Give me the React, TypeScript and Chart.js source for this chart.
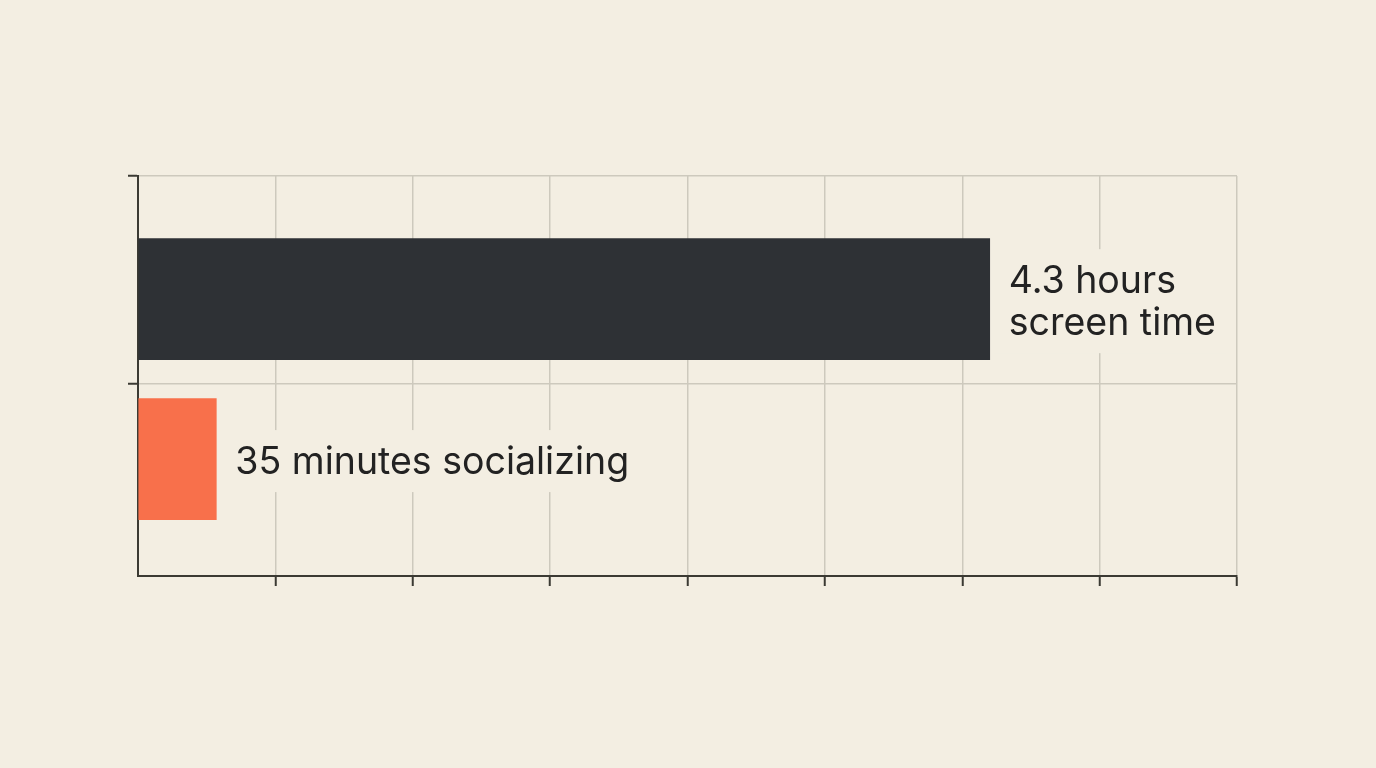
import { useEffect, useRef } from 'react';
import { Chart, registerables } from 'chart.js';

Chart.register(...registerables);

// values (x axis runs 0..8, no tick labels shown)
const categories = ['Screen time', 'Socializing'];
const values = [6.2, 0.57];
const barLabels = [['4.3 hours', 'screen time'], ['35 minutes socializing']];
const barColors = ['#2e3135', '#f8704b'];
const xTicks = [0, 1, 2, 3, 4, 5, 6, 7, 8];

const BG = '#f3eee2';
const GRID = '#cdc9bd';
const AXIS = '#3b3a33';
const TEXT = '#222222';

// label with a page-coloured box that hides the gridlines behind it
const barLabelPlugin = {
  id: 'barLabels',
  afterDatasetsDraw(chart: any) {
    const { ctx } = chart;
    const meta = chart.getDatasetMeta(0);
    ctx.save();
    ctx.font = '37.5px Inter, "Noto Sans", sans-serif';
    ctx.textBaseline = 'middle';
    ctx.textAlign = 'left';
    meta.data.forEach((bar: any, i: number) => {
      const lines = barLabels[i];
      const lineH = 42;
      const textX = bar.x + 19;
      const widest = Math.max(...lines.map((l) => ctx.measureText(l).width));
      const boxH = lines.length * lineH + 20;
      ctx.fillStyle = BG;
      ctx.fillRect(bar.x + 4, bar.y + 2 - boxH / 2, widest + 26, boxH);
      ctx.fillStyle = TEXT;
      lines.forEach((l, j) => {
        ctx.fillText(l, textX, bar.y + 4 + (j - (lines.length - 1) / 2) * lineH);
      });
    });
    ctx.restore();
  },
};

export default function App() {
  const canvasRef = useRef<HTMLCanvasElement>(null);
  const chartRef = useRef<any>(null);

  useEffect(() => {
    document.body.style.margin = '0';
    document.body.style.background = BG;
    if (!canvasRef.current) return;
    if (chartRef.current) chartRef.current.destroy();

    chartRef.current = new Chart(canvasRef.current, {
      type: 'bar',
      data: {
        datasets: [
          {
            label: 'Time',
            data: categories.map((_, i) => ({ x: values[i], y: i })),
            backgroundColor: barColors,
            borderWidth: 0,
            barThickness: 121,
          },
        ],
      },
      options: {
        indexAxis: 'y',
        responsive: true,
        maintainAspectRatio: false,
        animation: false,
        layout: { padding: { left: 128, right: 139, top: 176, bottom: 182 } },
        plugins: {
          legend: { display: false },
          tooltip: { enabled: false },
        },
        scales: {
          x: {
            type: 'linear',
            min: 0,
            max: 8,
            afterBuildTicks: (scale: any) => {
              scale.ticks = xTicks.map((v) => ({ value: v }));
            },
            afterFit: (scale: any) => {
              scale.height = 10;
            },
            ticks: { display: false },
            grid: {
              color: GRID,
              lineWidth: 1.5,
              tickLength: 10,
              tickWidth: 2,
              tickColor: (c: any) => (c.tick && c.tick.value === 0 ? 'rgba(0,0,0,0)' : AXIS),
            },
            border: { color: AXIS, width: 2 },
          },
          y: {
            type: 'linear',
            reverse: true,
            offset: false,
            min: -0.77,
            max: 1.731,
            afterBuildTicks: (scale: any) => {
              scale.ticks = [{ value: -0.77 }, { value: 0.53 }];
            },
            afterFit: (scale: any) => {
              scale.width = 10;
            },
            ticks: { display: false },
            grid: {
              offset: false,
              color: GRID,
              lineWidth: 1.5,
              tickLength: 10,
              tickWidth: 2,
              tickColor: AXIS,
            },
            border: { color: AXIS, width: 2 },
          },
        },
      },
      plugins: [barLabelPlugin],
    });

    return () => {
      if (chartRef.current) {
        chartRef.current.destroy();
        chartRef.current = null;
      }
    };
  }, []);

  return (
    <div style={{ width: '100vw', height: '100vh', background: BG }}>
      <canvas ref={canvasRef}></canvas>
    </div>
  );
}
